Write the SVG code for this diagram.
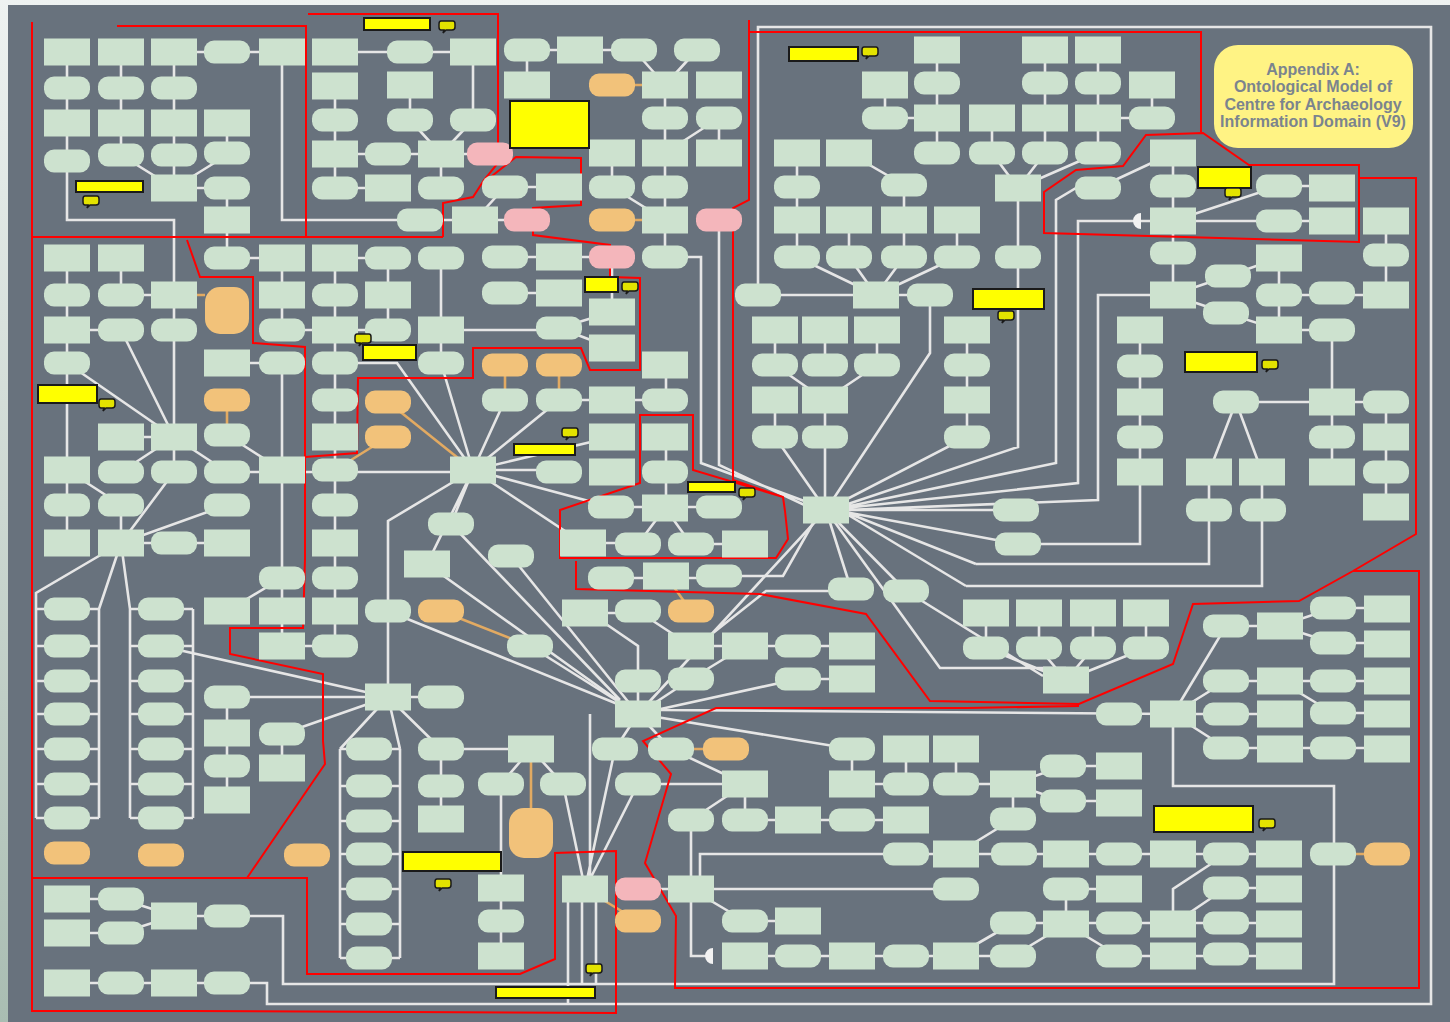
<svg xmlns="http://www.w3.org/2000/svg" xmlns:xlink="http://www.w3.org/1999/xlink" width="1450" height="1022" viewBox="0 0 1450 1022">
<style>
.c{fill:none;stroke:#e6e6e6;stroke-width:2.6}
.co{fill:none;stroke:#e2aa62;stroke-width:2.6}
.rd{fill:none;stroke:#ff0000;stroke-width:2}
.yl{fill:#ffff00;stroke:#1a1a1a;stroke-width:2}
.tt{font-family:"Liberation Sans",Arial,sans-serif;font-weight:bold;font-size:16px;fill:#7b848e;text-anchor:middle}
</style>
<defs>
<linearGradient id="lg" x1="0" y1="0" x2="0" y2="1"><stop offset="0" stop-color="#eef2f1"/><stop offset="1" stop-color="#a9bdb2"/></linearGradient>
<rect id="R" x="-23" y="-13.5" width="46" height="27" fill="#cde2cf"/>
<rect id="O" x="-23" y="-11.5" width="46" height="23" rx="10" fill="#cde2cf"/>
<rect id="OO" x="-23" y="-11.5" width="46" height="23" rx="10" fill="#f2c27a"/>
<rect id="P" x="-23" y="-11.5" width="46" height="23" rx="10" fill="#f4b6bb"/>
<path id="bub" d="M-6,-5H6Q8,-5 8,-2V1Q8,4 5,4H-1L-4,7L-3,4H-6Q-8,4 -8,1V-2Q-8,-5 -6,-5Z" fill="#e3e300" stroke="#1a1a1a" stroke-width="1.5"/>
</defs>
<rect width="1450" height="1022" fill="url(#lg)"/>
<rect x="8" y="5" width="1442" height="1017" fill="#68727d"/>

<g id="connectors">
<path class="c" d="M67,52V161 M67,161V220H174V437 M121,52V155L174,188 M174,52V188 M227,155L174,188 M174,188H227V258 M227,123V153 M174,52H282 M282,52V220H475
M335,52H473 M335,86V188H388 M410,85V120L441,154 M473,52V120L441,154 M335,154H490 M441,154V188 M475,220L505,187H559 M475,220H527
M527,50H634 M527,50V85 M634,50L665,85 M697,50L665,85 M665,85V257 M719,118L665,153 M719,118V153 M612,153V187L665,220 M665,257H701V463L815,505 M719,231V465L815,510
M505,257H612 M505,293H559 M612,257V312 M559,328L612,312 M559,328L612,348 M441,330H559 M559,400H666 M666,365V400 M666,437V508 M611,507H719 M665,508L638,544 M665,508L691,544H745 M583,543H638 M611,578H719 M719,576H783L816,518"/>
<path class="c" d="M585,613H638 M638,611L691,646 M606,624L638,646V714 M691,646H852 M745,646L691,679L638,714 M798,679H852 M798,679L638,714 M713,633L766,591H851 M851,589L826,510 M906,591L826,510
M638,714L826,510 M530,646L638,714 M660,710L1173,714 M638,714L615,749 M638,714L671,749 M638,714L852,749
M671,749L745,784 M638,784H745V820 M691,820L745,784 M745,820H906 M691,820V956H709 M638,889H956 M691,889L745,921H798 M700,878V854H956
M852,749V784H906V749 M956,749V784H1013 M745,956H1013L1066,924
M585,889L615,749 M585,889L638,784 M585,889L563,784 M590,714V889 M568,889V1004 M582,889V984 M596,889V984
M441,749H531 M531,749L501,784 M531,749L563,784 M501,784V956
M227,983H267V1004H1431V27H758V295 M227,916H283V984H1334V786H1173V714"/>
<path class="c" d="M67,258V505 M121,258V295H174 M67,330H121 M121,330L174,437 M67,363L174,437 M227,258H282V330H335 M335,258V505 M335,258H388V330 M335,330H388 M441,258V363 M227,363H282V578 M335,363H397L473,470 M441,363L473,470 M121,437H174 M174,437V472 M174,437L121,472 M174,437L227,472 M227,435L282,470 M227,472H473 M67,470L121,505 M121,505V543 M67,505V543 M121,543L174,472 M121,543L227,505 M121,543H227 M335,505V646 M282,578L227,611 M282,578V646H335
M473,470L505,400 M473,470L559,400 M473,470L612,437 M473,470H559 M473,470L611,507 M473,470L583,543 M473,470L451,524 M473,470L427,564 M473,470L388,521V697 M405,618L620,705 M451,524L620,700 M427,564L620,702 M511,556L638,714
M161,646L388,697 M227,697H441 M282,734L388,697 M388,697L441,749 M388,697L340,749 M388,697L400,749 M227,697V800 M282,734V768 M441,749V819
M121,543L36,593V818 M121,543L99,609V818 M36,609H99 M36,646H99 M36,681H99 M36,714H99 M36,749H99 M36,784H99 M36,818H99
M121,543L130,609V818 M193,609V818 M130,609H193 M130,646H193 M130,681H193 M130,714H193 M130,749H193 M130,784H193 M130,818H193
M340,749V958 M400,749V958 M340,749H400 M340,786H400 M340,821H400 M340,854H400 M340,889H400 M340,924H400 M340,958H400
M67,899H121 M67,933H121 M121,899L174,916 M121,933L174,916 M174,916H227 M67,983H227"/>
<path class="c" d="M937,50V153 M885,85V118H937 M797,153V257 M849,153L904,185V257 M849,220V257 M957,220V257 M797,257L876,295 M849,257L876,295 M904,257L876,295 M957,257L876,295 M758,295H930 M930,295V353L826,510 M775,330V365 M825,330V365 M877,330V365 M775,365L825,400 M877,365L825,400 M825,400V510 M775,400V437L826,510 M967,330V437L826,510
M1045,50V153 M1098,50V153 M1098,118H1152V85 M992,118V153L1018,188 M1045,153L1018,188 M1098,153L1018,188 M1018,188V447L845,505 M1098,188H1076L1056,200V463L845,507 M1098,188L1173,153 M1173,153V295 M1173,221H1078V483L845,508 M1173,221L1279,186H1332 M1173,221H1332 M1172,295H1098V500L845,510 M1172,295L1228,276L1279,258V330 M1172,295L1226,313L1279,330 M1279,295H1386 M1279,330H1332V472 M1386,221V295 M1386,402V507 M1236,402H1386 M1236,402L1209,472V564H976 M1236,402L1262,472V586H966 M1140,330V544H1018 M845,510H1016 M845,512L976,564 M845,513L966,586 M845,512L1018,544
M826,510L940,668H1066 M906,591L1043,676 M986,613V648L1066,680 M1039,613V648L1066,680 M1093,613V648L1066,680 M1146,613V648L1066,680
M1173,714L1226,626H1280L1333,608H1387 M1280,626L1333,643H1387 M1173,714L1226,681H1387 M1280,681L1333,713H1387 M1173,714H1280 M1173,714L1226,748H1387
M1013,784L1063,766H1119 M1013,784L1063,801H1119 M1013,784V819L956,854 M956,854H1279 M1226,854L1173,889V924 M1066,889H1119 M1066,889V924 M1013,923H1279 M1173,924L1226,888H1279 M1066,924L1119,956H1279 M956,956L1013,923"/>
<path class="co" d="M612,85H665 M612,220H665 M174,295H205 M505,365V400 M559,365V400 M388,402L473,470 M388,437L335,470 M227,400V435 M666,576L691,611 M441,611L530,646 M671,749H726 M531,749V833 M1333,854H1387 M585,889L638,921"/>
<path d="M1141,213V229A8,8 0 0 1 1141,213Z M713,948V964A8,8 0 0 1 713,948Z" fill="#f2f2f2"/>
</g>

<g id="regions">
<path class="rd" d="M117,26H306V237 M308,14H498V163L484,180L473,197L443,203V237 M32,22V1011H190L616,1013V851L555,853V959L520,974H307V878H32 M32,237H443
M187,240L200,277H253V343L305,347V559L303,628H230V654L323,674V741L325,764L247,878
M305,457L357,453L358,378H473V348H581L590,370H640V278L610,277V245L533,235V208L581,205V158L516,157L483,183
M749,20V32H1201V132 M749,32V200L733,208V480L783,497L785,511L788,539L776,558H560V510L640,483V415H693V470L783,497
M576,561V589L760,594L866,614L930,701L1079,704L1173,664L1193,604L1299,601L1353,571L1416,534V178H1359
M1044,233V192L1076,170L1123,166L1146,135L1203,133L1249,165H1359V242Z
M1353,571H1419V988H675L676,916L645,863L671,774L643,741L716,708H967L1079,706"/>
</g>

<g id="nodes">
<g id="n1"><use href="#R" x="67" y="52"/></g>
<g id="n2"><use href="#R" x="121" y="52"/></g>
<g id="n3"><use href="#R" x="174" y="52"/></g>
<g id="n4"><use href="#O" x="227" y="52"/></g>
<g id="n5"><use href="#R" x="282" y="52"/></g>
<g id="n6"><use href="#O" x="67" y="88"/></g>
<g id="n7"><use href="#O" x="121" y="88"/></g>
<g id="n8"><use href="#O" x="174" y="88"/></g>
<g id="n9"><use href="#R" x="67" y="123"/></g>
<g id="n10"><use href="#R" x="121" y="123"/></g>
<g id="n11"><use href="#R" x="174" y="123"/></g>
<g id="n12"><use href="#R" x="227" y="123"/></g>
<g id="n13"><use href="#O" x="67" y="161"/></g>
<g id="n14"><use href="#O" x="121" y="155"/></g>
<g id="n15"><use href="#O" x="174" y="155"/></g>
<g id="n16"><use href="#O" x="227" y="153"/></g>
<g id="n17"><use href="#R" x="174" y="188"/></g>
<g id="n18"><use href="#O" x="227" y="188"/></g>
<g id="n19"><use href="#R" x="227" y="220"/></g>
<g id="n20"><use href="#R" x="335" y="52"/></g>
<g id="n21"><use href="#O" x="410" y="52"/></g>
<g id="n22"><use href="#R" x="473" y="52"/></g>
<g id="n23"><use href="#R" x="335" y="86"/></g>
<g id="n24"><use href="#R" x="410" y="85"/></g>
<g id="n25"><use href="#O" x="335" y="120"/></g>
<g id="n26"><use href="#O" x="410" y="120"/></g>
<g id="n27"><use href="#O" x="473" y="120"/></g>
<g id="n28"><use href="#R" x="335" y="154"/></g>
<g id="n29"><use href="#O" x="388" y="154"/></g>
<g id="n30"><use href="#R" x="441" y="154"/></g>
<g id="n31"><use href="#P" x="490" y="154"/></g>
<g id="n32"><use href="#O" x="335" y="188"/></g>
<g id="n33"><use href="#R" x="388" y="188"/></g>
<g id="n34"><use href="#O" x="441" y="188"/></g>
<g id="n35"><use href="#O" x="420" y="220"/></g>
<g id="n36"><use href="#R" x="475" y="220"/></g>
<g id="n37"><use href="#O" x="527" y="50"/></g>
<g id="n38"><use href="#R" x="580" y="50"/></g>
<g id="n39"><use href="#O" x="634" y="50"/></g>
<g id="n40"><use href="#O" x="697" y="50"/></g>
<g id="n41"><use href="#R" x="527" y="85"/></g>
<g id="n42"><use href="#OO" x="612" y="85"/></g>
<g id="n43"><use href="#R" x="665" y="85"/></g>
<g id="n44"><use href="#R" x="719" y="85"/></g>
<g id="n45"><use href="#O" x="665" y="118"/></g>
<g id="n46"><use href="#O" x="719" y="118"/></g>
<g id="n47"><use href="#R" x="612" y="153"/></g>
<g id="n48"><use href="#R" x="665" y="153"/></g>
<g id="n49"><use href="#R" x="719" y="153"/></g>
<g id="n50"><use href="#O" x="505" y="187"/></g>
<g id="n51"><use href="#R" x="559" y="187"/></g>
<g id="n52"><use href="#O" x="612" y="187"/></g>
<g id="n53"><use href="#O" x="665" y="187"/></g>
<g id="n54"><use href="#P" x="527" y="220"/></g>
<g id="n55"><use href="#OO" x="612" y="220"/></g>
<g id="n56"><use href="#R" x="665" y="220"/></g>
<g id="n57"><use href="#P" x="719" y="220"/></g>
<g id="n58"><use href="#O" x="505" y="257"/></g>
<g id="n59"><use href="#R" x="559" y="257"/></g>
<g id="n60"><use href="#P" x="612" y="257"/></g>
<g id="n61"><use href="#O" x="665" y="257"/></g>
<g id="n62"><use href="#O" x="505" y="293"/></g>
<g id="n63"><use href="#R" x="559" y="293"/></g>
<g id="n64"><use href="#R" x="612" y="312"/></g>
<g id="n65"><use href="#O" x="559" y="328"/></g>
<g id="n66"><use href="#R" x="612" y="348"/></g>
<g id="n67"><use href="#OO" x="505" y="365"/></g>
<g id="n68"><use href="#OO" x="559" y="365"/></g>
<g id="n69"><use href="#R" x="665" y="365"/></g>
<g id="n70"><use href="#O" x="505" y="400"/></g>
<g id="n71"><use href="#O" x="559" y="400"/></g>
<g id="n72"><use href="#R" x="612" y="400"/></g>
<g id="n73"><use href="#O" x="665" y="400"/></g>
<g id="n74"><use href="#R" x="612" y="437"/></g>
<g id="n75"><use href="#R" x="665" y="437"/></g>
<g id="n76"><use href="#O" x="559" y="472"/></g>
<g id="n77"><use href="#R" x="612" y="472"/></g>
<g id="n78"><use href="#O" x="665" y="472"/></g>
<g id="n79"><use href="#O" x="611" y="507"/></g>
<g id="n80"><use href="#R" x="665" y="508"/></g>
<g id="n81"><use href="#O" x="719" y="507"/></g>
<g id="n82"><use href="#R" x="67" y="258"/></g>
<g id="n83"><use href="#R" x="121" y="258"/></g>
<g id="n84"><use href="#O" x="227" y="258"/></g>
<g id="n85"><use href="#R" x="282" y="258"/></g>
<g id="n86"><use href="#R" x="335" y="258"/></g>
<g id="n87"><use href="#O" x="388" y="258"/></g>
<g id="n88"><use href="#O" x="441" y="258"/></g>
<g id="n89"><use href="#O" x="67" y="295"/></g>
<g id="n90"><use href="#O" x="121" y="295"/></g>
<g id="n91"><use href="#R" x="174" y="295"/></g>
<g id="n92"><rect x="205" y="287" width="44" height="47" rx="15" fill="#f2c27a"/></g>
<g id="n93"><use href="#R" x="282" y="295"/></g>
<g id="n94"><use href="#O" x="335" y="295"/></g>
<g id="n95"><use href="#R" x="388" y="295"/></g>
<g id="n96"><use href="#R" x="67" y="330"/></g>
<g id="n97"><use href="#O" x="121" y="330"/></g>
<g id="n98"><use href="#O" x="174" y="330"/></g>
<g id="n99"><use href="#O" x="282" y="330"/></g>
<g id="n100"><use href="#R" x="335" y="330"/></g>
<g id="n101"><use href="#O" x="388" y="330"/></g>
<g id="n102"><use href="#R" x="441" y="330"/></g>
<g id="n103"><use href="#O" x="67" y="363"/></g>
<g id="n104"><use href="#R" x="227" y="363"/></g>
<g id="n105"><use href="#O" x="282" y="363"/></g>
<g id="n106"><use href="#O" x="335" y="363"/></g>
<g id="n107"><use href="#O" x="441" y="363"/></g>
<g id="n108"><use href="#OO" x="227" y="400"/></g>
<g id="n109"><use href="#O" x="335" y="400"/></g>
<g id="n110"><use href="#OO" x="388" y="402"/></g>
<g id="n111"><use href="#R" x="121" y="437"/></g>
<g id="n112"><use href="#R" x="174" y="437"/></g>
<g id="n113"><use href="#O" x="227" y="435"/></g>
<g id="n114"><use href="#R" x="335" y="437"/></g>
<g id="n115"><use href="#OO" x="388" y="437"/></g>
<g id="n116"><use href="#R" x="67" y="470"/></g>
<g id="n117"><use href="#O" x="121" y="472"/></g>
<g id="n118"><use href="#O" x="174" y="472"/></g>
<g id="n119"><use href="#O" x="227" y="472"/></g>
<g id="n120"><use href="#R" x="282" y="470"/></g>
<g id="n121"><use href="#O" x="335" y="470"/></g>
<g id="n122"><use href="#R" x="473" y="470"/></g>
<g id="n123"><use href="#O" x="67" y="505"/></g>
<g id="n124"><use href="#O" x="121" y="505"/></g>
<g id="n125"><use href="#O" x="227" y="505"/></g>
<g id="n126"><use href="#O" x="335" y="505"/></g>
<g id="n127"><use href="#R" x="67" y="543"/></g>
<g id="n128"><use href="#R" x="121" y="543"/></g>
<g id="n129"><use href="#O" x="174" y="543"/></g>
<g id="n130"><use href="#R" x="227" y="543"/></g>
<g id="n131"><use href="#R" x="335" y="543"/></g>
<g id="n132"><use href="#O" x="282" y="578"/></g>
<g id="n133"><use href="#O" x="335" y="578"/></g>
<g id="n134"><use href="#R" x="227" y="611"/></g>
<g id="n135"><use href="#R" x="282" y="611"/></g>
<g id="n136"><use href="#R" x="335" y="611"/></g>
<g id="n137"><use href="#O" x="388" y="611"/></g>
<g id="n138"><use href="#OO" x="441" y="611"/></g>
<g id="n139"><use href="#R" x="282" y="646"/></g>
<g id="n140"><use href="#O" x="335" y="646"/></g>
<g id="n141"><use href="#O" x="451" y="524"/></g>
<g id="n142"><use href="#R" x="427" y="564"/></g>
<g id="n143"><use href="#O" x="67" y="609"/></g>
<g id="n144"><use href="#O" x="67" y="646"/></g>
<g id="n145"><use href="#O" x="67" y="681"/></g>
<g id="n146"><use href="#O" x="67" y="714"/></g>
<g id="n147"><use href="#O" x="67" y="749"/></g>
<g id="n148"><use href="#O" x="67" y="784"/></g>
<g id="n149"><use href="#O" x="67" y="818"/></g>
<g id="n150"><use href="#O" x="161" y="609"/></g>
<g id="n151"><use href="#O" x="161" y="646"/></g>
<g id="n152"><use href="#O" x="161" y="681"/></g>
<g id="n153"><use href="#O" x="161" y="714"/></g>
<g id="n154"><use href="#O" x="161" y="749"/></g>
<g id="n155"><use href="#O" x="161" y="784"/></g>
<g id="n156"><use href="#O" x="161" y="818"/></g>
<g id="n157"><use href="#O" x="227" y="697"/></g>
<g id="n158"><use href="#R" x="227" y="733"/></g>
<g id="n159"><use href="#O" x="227" y="766"/></g>
<g id="n160"><use href="#R" x="227" y="800"/></g>
<g id="n161"><use href="#O" x="282" y="734"/></g>
<g id="n162"><use href="#R" x="282" y="768"/></g>
<g id="n163"><use href="#R" x="388" y="697"/></g>
<g id="n164"><use href="#O" x="441" y="697"/></g>
<g id="n165"><use href="#O" x="369" y="749"/></g>
<g id="n166"><use href="#O" x="369" y="786"/></g>
<g id="n167"><use href="#O" x="369" y="821"/></g>
<g id="n168"><use href="#O" x="369" y="854"/></g>
<g id="n169"><use href="#O" x="369" y="889"/></g>
<g id="n170"><use href="#O" x="369" y="924"/></g>
<g id="n171"><use href="#O" x="369" y="958"/></g>
<g id="n172"><use href="#O" x="441" y="749"/></g>
<g id="n173"><use href="#O" x="441" y="786"/></g>
<g id="n174"><use href="#R" x="441" y="819"/></g>
<g id="n175"><use href="#OO" x="67" y="853"/></g>
<g id="n176"><use href="#OO" x="161" y="855"/></g>
<g id="n177"><use href="#OO" x="307" y="855"/></g>
<g id="n178"><use href="#R" x="67" y="899"/></g>
<g id="n179"><use href="#R" x="67" y="933"/></g>
<g id="n180"><use href="#O" x="121" y="899"/></g>
<g id="n181"><use href="#O" x="121" y="933"/></g>
<g id="n182"><use href="#R" x="174" y="916"/></g>
<g id="n183"><use href="#O" x="227" y="916"/></g>
<g id="n184"><use href="#R" x="67" y="983"/></g>
<g id="n185"><use href="#O" x="121" y="983"/></g>
<g id="n186"><use href="#R" x="174" y="983"/></g>
<g id="n187"><use href="#O" x="227" y="983"/></g>
<g id="n188"><use href="#R" x="583" y="543"/></g>
<g id="n189"><use href="#O" x="638" y="544"/></g>
<g id="n190"><use href="#O" x="691" y="544"/></g>
<g id="n191"><use href="#R" x="745" y="544"/></g>
<g id="n192"><use href="#O" x="511" y="556"/></g>
<g id="n193"><use href="#O" x="611" y="578"/></g>
<g id="n194"><use href="#R" x="666" y="576"/></g>
<g id="n195"><use href="#O" x="719" y="576"/></g>
<g id="n196"><use href="#R" x="585" y="613"/></g>
<g id="n197"><use href="#O" x="638" y="611"/></g>
<g id="n198"><use href="#OO" x="691" y="611"/></g>
<g id="n199"><use href="#O" x="851" y="589"/></g>
<g id="n200"><use href="#O" x="906" y="591"/></g>
<g id="n201"><use href="#O" x="530" y="646"/></g>
<g id="n202"><use href="#R" x="691" y="646"/></g>
<g id="n203"><use href="#R" x="745" y="646"/></g>
<g id="n204"><use href="#O" x="798" y="646"/></g>
<g id="n205"><use href="#R" x="852" y="646"/></g>
<g id="n206"><use href="#O" x="638" y="681"/></g>
<g id="n207"><use href="#O" x="691" y="679"/></g>
<g id="n208"><use href="#O" x="798" y="679"/></g>
<g id="n209"><use href="#R" x="852" y="679"/></g>
<g id="n210"><use href="#R" x="638" y="714"/></g>
<g id="n211"><use href="#O" x="615" y="749"/></g>
<g id="n212"><use href="#O" x="671" y="749"/></g>
<g id="n213"><use href="#OO" x="726" y="749"/></g>
<g id="n214"><use href="#R" x="531" y="749"/></g>
<g id="n215"><use href="#O" x="501" y="784"/></g>
<g id="n216"><use href="#O" x="563" y="784"/></g>
<g id="n217"><use href="#O" x="638" y="784"/></g>
<g id="n218"><use href="#R" x="745" y="784"/></g>
<g id="n219"><rect x="509" y="808" width="44" height="50" rx="15" fill="#f2c27a"/></g>
<g id="n220"><use href="#O" x="691" y="820"/></g>
<g id="n221"><use href="#O" x="745" y="820"/></g>
<g id="n222"><use href="#R" x="798" y="820"/></g>
<g id="n223"><use href="#O" x="852" y="820"/></g>
<g id="n224"><use href="#R" x="906" y="820"/></g>
<g id="n225"><use href="#O" x="852" y="749"/></g>
<g id="n226"><use href="#R" x="906" y="749"/></g>
<g id="n227"><use href="#R" x="852" y="784"/></g>
<g id="n228"><use href="#O" x="906" y="784"/></g>
<g id="n229"><use href="#R" x="956" y="749"/></g>
<g id="n230"><use href="#O" x="956" y="784"/></g>
<g id="n231"><use href="#O" x="906" y="854"/></g>
<g id="n232"><use href="#R" x="956" y="854"/></g>
<g id="n233"><use href="#R" x="585" y="889"/></g>
<g id="n234"><use href="#P" x="638" y="889"/></g>
<g id="n235"><use href="#R" x="691" y="889"/></g>
<g id="n236"><use href="#O" x="956" y="889"/></g>
<g id="n237"><use href="#OO" x="638" y="921"/></g>
<g id="n238"><use href="#O" x="745" y="921"/></g>
<g id="n239"><use href="#R" x="798" y="921"/></g>
<g id="n240"><use href="#R" x="501" y="888"/></g>
<g id="n241"><use href="#O" x="501" y="921"/></g>
<g id="n242"><use href="#R" x="501" y="956"/></g>
<g id="n243"><use href="#R" x="745" y="956"/></g>
<g id="n244"><use href="#O" x="798" y="956"/></g>
<g id="n245"><use href="#R" x="852" y="956"/></g>
<g id="n246"><use href="#O" x="906" y="956"/></g>
<g id="n247"><use href="#R" x="956" y="956"/></g>
<g id="n248"><use href="#R" x="937" y="50"/></g>
<g id="n249"><use href="#O" x="937" y="83"/></g>
<g id="n250"><use href="#R" x="885" y="85"/></g>
<g id="n251"><use href="#O" x="885" y="118"/></g>
<g id="n252"><use href="#R" x="937" y="118"/></g>
<g id="n253"><use href="#O" x="937" y="153"/></g>
<g id="n254"><use href="#R" x="797" y="153"/></g>
<g id="n255"><use href="#R" x="849" y="153"/></g>
<g id="n256"><use href="#O" x="797" y="187"/></g>
<g id="n257"><use href="#O" x="904" y="185"/></g>
<g id="n258"><use href="#R" x="797" y="220"/></g>
<g id="n259"><use href="#R" x="849" y="220"/></g>
<g id="n260"><use href="#R" x="904" y="220"/></g>
<g id="n261"><use href="#R" x="957" y="220"/></g>
<g id="n262"><use href="#O" x="797" y="257"/></g>
<g id="n263"><use href="#O" x="849" y="257"/></g>
<g id="n264"><use href="#O" x="904" y="257"/></g>
<g id="n265"><use href="#O" x="957" y="257"/></g>
<g id="n266"><use href="#O" x="758" y="295"/></g>
<g id="n267"><use href="#R" x="876" y="295"/></g>
<g id="n268"><use href="#O" x="930" y="295"/></g>
<g id="n269"><use href="#R" x="775" y="330"/></g>
<g id="n270"><use href="#R" x="825" y="330"/></g>
<g id="n271"><use href="#R" x="877" y="330"/></g>
<g id="n272"><use href="#R" x="967" y="330"/></g>
<g id="n273"><use href="#O" x="775" y="365"/></g>
<g id="n274"><use href="#O" x="825" y="365"/></g>
<g id="n275"><use href="#O" x="877" y="365"/></g>
<g id="n276"><use href="#O" x="967" y="365"/></g>
<g id="n277"><use href="#R" x="775" y="400"/></g>
<g id="n278"><use href="#R" x="825" y="400"/></g>
<g id="n279"><use href="#R" x="967" y="400"/></g>
<g id="n280"><use href="#O" x="775" y="437"/></g>
<g id="n281"><use href="#O" x="825" y="437"/></g>
<g id="n282"><use href="#O" x="967" y="437"/></g>
<g id="n283"><use href="#R" x="826" y="510"/></g>
<g id="n284"><use href="#R" x="1045" y="50"/></g>
<g id="n285"><use href="#R" x="1098" y="50"/></g>
<g id="n286"><use href="#O" x="1045" y="83"/></g>
<g id="n287"><use href="#O" x="1098" y="83"/></g>
<g id="n288"><use href="#R" x="1152" y="85"/></g>
<g id="n289"><use href="#R" x="992" y="118"/></g>
<g id="n290"><use href="#R" x="1045" y="118"/></g>
<g id="n291"><use href="#R" x="1098" y="118"/></g>
<g id="n292"><use href="#O" x="1152" y="118"/></g>
<g id="n293"><use href="#O" x="992" y="153"/></g>
<g id="n294"><use href="#O" x="1045" y="153"/></g>
<g id="n295"><use href="#O" x="1098" y="153"/></g>
<g id="n296"><use href="#R" x="1018" y="188"/></g>
<g id="n297"><use href="#O" x="1018" y="257"/></g>
<g id="n298"><use href="#R" x="1173" y="153"/></g>
<g id="n299"><use href="#O" x="1173" y="186"/></g>
<g id="n300"><use href="#R" x="1173" y="221"/></g>
<g id="n301"><use href="#O" x="1098" y="188"/></g>
<g id="n302"><use href="#O" x="1279" y="186"/></g>
<g id="n303"><use href="#R" x="1332" y="188"/></g>
<g id="n304"><use href="#O" x="1279" y="221"/></g>
<g id="n305"><use href="#R" x="1332" y="221"/></g>
<g id="n306"><use href="#R" x="1386" y="221"/></g>
<g id="n307"><use href="#O" x="1386" y="255"/></g>
<g id="n308"><use href="#O" x="1173" y="253"/></g>
<g id="n309"><use href="#R" x="1279" y="258"/></g>
<g id="n310"><use href="#O" x="1228" y="276"/></g>
<g id="n311"><use href="#R" x="1173" y="295"/></g>
<g id="n312"><use href="#O" x="1279" y="295"/></g>
<g id="n313"><use href="#O" x="1332" y="293"/></g>
<g id="n314"><use href="#R" x="1386" y="295"/></g>
<g id="n315"><use href="#O" x="1226" y="313"/></g>
<g id="n316"><use href="#R" x="1279" y="330"/></g>
<g id="n317"><use href="#O" x="1332" y="330"/></g>
<g id="n318"><use href="#R" x="1140" y="330"/></g>
<g id="n319"><use href="#O" x="1140" y="366"/></g>
<g id="n320"><use href="#R" x="1140" y="402"/></g>
<g id="n321"><use href="#O" x="1140" y="437"/></g>
<g id="n322"><use href="#R" x="1140" y="472"/></g>
<g id="n323"><use href="#O" x="1236" y="402"/></g>
<g id="n324"><use href="#R" x="1332" y="402"/></g>
<g id="n325"><use href="#O" x="1386" y="402"/></g>
<g id="n326"><use href="#O" x="1332" y="437"/></g>
<g id="n327"><use href="#R" x="1386" y="437"/></g>
<g id="n328"><use href="#R" x="1209" y="472"/></g>
<g id="n329"><use href="#R" x="1262" y="472"/></g>
<g id="n330"><use href="#R" x="1332" y="472"/></g>
<g id="n331"><use href="#O" x="1386" y="472"/></g>
<g id="n332"><use href="#R" x="1386" y="507"/></g>
<g id="n333"><use href="#O" x="1209" y="510"/></g>
<g id="n334"><use href="#O" x="1263" y="510"/></g>
<g id="n335"><use href="#O" x="1016" y="510"/></g>
<g id="n336"><use href="#O" x="1018" y="544"/></g>
<g id="n337"><use href="#R" x="986" y="613"/></g>
<g id="n338"><use href="#R" x="1039" y="613"/></g>
<g id="n339"><use href="#R" x="1093" y="613"/></g>
<g id="n340"><use href="#R" x="1146" y="613"/></g>
<g id="n341"><use href="#O" x="986" y="648"/></g>
<g id="n342"><use href="#O" x="1039" y="648"/></g>
<g id="n343"><use href="#O" x="1093" y="648"/></g>
<g id="n344"><use href="#O" x="1146" y="648"/></g>
<g id="n345"><use href="#R" x="1066" y="680"/></g>
<g id="n346"><use href="#O" x="1226" y="626"/></g>
<g id="n347"><use href="#R" x="1280" y="626"/></g>
<g id="n348"><use href="#O" x="1333" y="608"/></g>
<g id="n349"><use href="#R" x="1387" y="609"/></g>
<g id="n350"><use href="#O" x="1333" y="643"/></g>
<g id="n351"><use href="#R" x="1387" y="644"/></g>
<g id="n352"><use href="#O" x="1226" y="681"/></g>
<g id="n353"><use href="#R" x="1280" y="681"/></g>
<g id="n354"><use href="#O" x="1333" y="681"/></g>
<g id="n355"><use href="#R" x="1387" y="681"/></g>
<g id="n356"><use href="#O" x="1119" y="714"/></g>
<g id="n357"><use href="#R" x="1173" y="714"/></g>
<g id="n358"><use href="#O" x="1226" y="714"/></g>
<g id="n359"><use href="#R" x="1280" y="714"/></g>
<g id="n360"><use href="#O" x="1333" y="713"/></g>
<g id="n361"><use href="#R" x="1387" y="714"/></g>
<g id="n362"><use href="#O" x="1226" y="748"/></g>
<g id="n363"><use href="#R" x="1280" y="749"/></g>
<g id="n364"><use href="#O" x="1333" y="748"/></g>
<g id="n365"><use href="#R" x="1387" y="749"/></g>
<g id="n366"><use href="#O" x="1063" y="766"/></g>
<g id="n367"><use href="#R" x="1119" y="766"/></g>
<g id="n368"><use href="#R" x="1013" y="784"/></g>
<g id="n369"><use href="#O" x="1063" y="801"/></g>
<g id="n370"><use href="#R" x="1119" y="803"/></g>
<g id="n371"><use href="#O" x="1013" y="819"/></g>
<g id="n372"><use href="#O" x="1014" y="854"/></g>
<g id="n373"><use href="#R" x="1066" y="854"/></g>
<g id="n374"><use href="#O" x="1119" y="854"/></g>
<g id="n375"><use href="#R" x="1173" y="854"/></g>
<g id="n376"><use href="#O" x="1226" y="854"/></g>
<g id="n377"><use href="#R" x="1279" y="854"/></g>
<g id="n378"><use href="#O" x="1333" y="854"/></g>
<g id="n379"><use href="#OO" x="1387" y="854"/></g>
<g id="n380"><use href="#O" x="1066" y="889"/></g>
<g id="n381"><use href="#R" x="1119" y="889"/></g>
<g id="n382"><use href="#O" x="1226" y="888"/></g>
<g id="n383"><use href="#R" x="1279" y="889"/></g>
<g id="n384"><use href="#O" x="1013" y="923"/></g>
<g id="n385"><use href="#R" x="1066" y="924"/></g>
<g id="n386"><use href="#O" x="1119" y="923"/></g>
<g id="n387"><use href="#R" x="1173" y="924"/></g>
<g id="n388"><use href="#O" x="1226" y="923"/></g>
<g id="n389"><use href="#R" x="1279" y="924"/></g>
<g id="n390"><use href="#O" x="1013" y="956"/></g>
<g id="n391"><use href="#O" x="1119" y="956"/></g>
<g id="n392"><use href="#R" x="1173" y="956"/></g>
<g id="n393"><use href="#O" x="1226" y="954"/></g>
<g id="n394"><use href="#R" x="1279" y="956"/></g>
</g>

<g id="labels">
<rect class="yl" x="76" y="181" width="67" height="11"/><use href="#bub" x="91" y="201"/>
<rect class="yl" x="364" y="18" width="66" height="12"/><use href="#bub" x="447" y="26"/>
<rect class="yl" x="510" y="101" width="79" height="47"/>
<rect class="yl" x="585" y="277" width="33" height="15"/><use href="#bub" x="630" y="287"/>
<rect class="yl" x="363" y="345" width="53" height="15"/><use href="#bub" x="363" y="339"/>
<rect class="yl" x="38" y="385" width="59" height="18"/><use href="#bub" x="107" y="404"/>
<rect class="yl" x="514" y="444" width="61" height="11"/><use href="#bub" x="570" y="433"/>
<rect class="yl" x="688" y="482" width="47" height="10"/><use href="#bub" x="747" y="493"/>
<rect class="yl" x="789" y="47" width="69" height="14"/><use href="#bub" x="870" y="52"/>
<rect class="yl" x="1198" y="167" width="53" height="21"/><use href="#bub" x="1233" y="193"/>
<rect class="yl" x="973" y="289" width="71" height="20"/><use href="#bub" x="1006" y="316"/>
<rect class="yl" x="1185" y="352" width="72" height="20"/><use href="#bub" x="1270" y="365"/>
<rect class="yl" x="403" y="852" width="98" height="19"/><use href="#bub" x="443" y="884"/>
<rect class="yl" x="1154" y="806" width="99" height="26"/><use href="#bub" x="1267" y="824"/>
<rect class="yl" x="496" y="987" width="99" height="11"/><use href="#bub" x="594" y="969"/>
</g>

<g id="title">
<rect x="1214" y="45" width="199" height="103" rx="24" fill="#fff384"/>
<text class="tt" x="1313" y="75">Appendix A:</text>
<text class="tt" x="1313" y="92">Ontological Model of</text>
<text class="tt" x="1313" y="110">Centre for Archaeology</text>
<text class="tt" x="1313" y="127">Information Domain (V9)</text>
</g>
</svg>
